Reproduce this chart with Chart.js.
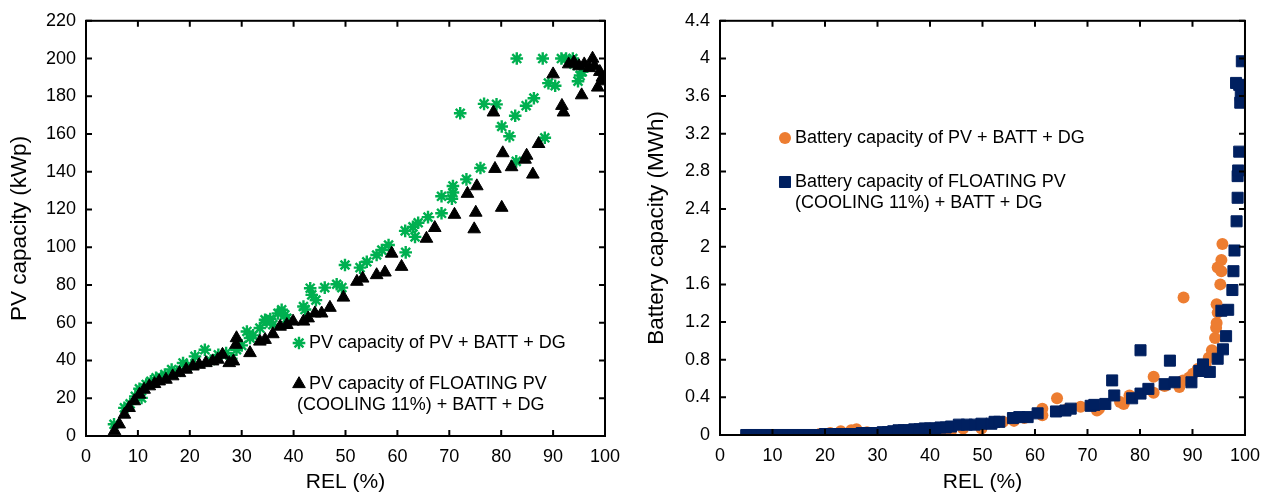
<!DOCTYPE html>
<html>
<head>
<meta charset="utf-8">
<script src="https://cdn.jsdelivr.net/npm/chart.js@4.4.1/dist/chart.umd.min.js"></script>
<style>
  body { margin: 0; background: #fff; }
  .wrap { position: absolute; top: 0; width: 635px; height: 496px; }
</style>
</head>
<body>
<div class="wrap" style="left:0"><canvas id="pv" width="635" height="496"></canvas></div>
<div class="wrap" style="left:635px"><canvas id="batt" width="635" height="496"></canvas></div>
<script>
// left panel: PV capacity (kWp) vs REL (%)
const pvBattRel = [5.4,7.4,8.5,9.5,10.3,10.7,11.6,12.5,13.5,14.5,15.2,16.5,17.5,18.7,19.5,21,22.9,24,25.5,27,28,29,30,31,31.6,32.2,33.5,34.5,34.8,35.5,36,37,37.7,38.3,38.7,41.9,42.2,43.2,43.5,44.3,46,48.3,49.3,49.9,52.8,54.1,56,57,58.3,61.6,61.5,63,63.4,64,65.9,68.5,68.5,70.5,70.7,70.7,72.1,73.3,76,76.7,79.1,80.1,81.6,82.7,82.9,83,84.8,86.3,88,88.4,89.1,90.4,91.6,92.5,93.8,94,94.8,95.2,95.6];
const pvBattCap = [6.2,14.9,17,21,25,20.2,27.3,29,30.8,31,32.6,35.2,34,38.7,37,42.2,45.7,40,43,44,41,45.7,48,55.4,51.9,53.3,57.2,61.6,60.7,62,59,65,66.9,64.2,62.4,68.6,67,78.3,74.8,72,78.6,80.4,78.6,90.6,89.2,92.3,95.9,98.5,101.2,97.3,108.7,110.8,105.5,113,116,118,127,125.7,129,132.5,171,136,142,176,175.7,164,158.8,169.7,145.5,200,175,179,200,158,187,185.6,200,200,200,197,188,191,193];

const floatRel = [5.5,6.4,7.4,8.3,9.3,10.3,11.2,12.2,13.2,14.1,15.4,16.7,18,19.3,20.6,21.8,23.1,24.4,25.4,26.3,27.6,28.4,28.9,29,31.6,33.5,34.5,36,37.4,38.7,39.9,41.9,42.8,44.1,45.4,47,49.6,52.2,53.3,56,57.6,58.9,60.8,65.6,67.2,71,73.5,74.8,75.1,75.3,78.5,78.8,80.1,80.3,82,84.6,84.9,86.1,87.2,90,91.7,92,93,94,95,95.5,96,97,97.6,98,98.6,99,99.5,99.8];
const floatCap = [2.6,6.2,11.4,14.9,18.5,22,24.6,26.4,27.6,29,29.9,31.7,33.4,35.2,36.9,37.8,38.7,39.6,40.5,43.1,38.7,39.6,48.4,51.9,44,50.1,51,54,58,58.9,60.7,60.7,62.4,65,65,68,73.4,81.8,83.5,85.3,86.7,96.7,89.7,104.6,110.3,117.3,128.4,109.6,118.4,132.4,171.5,141.6,121,149.9,142.5,146.5,148.6,138.6,154.8,191.7,175,171.5,197,198,196,180.6,197,195,200,196,184.7,193,190,188];

// right panel: battery capacity (MWh) vs REL (%)
const battRel = [5,7,9,11,13,15,17,19,21,23,25,26,28,30,32,34,36,38,40,42,44,46.3,49.8,53.9,56,58,61.4,61.4,64.2,66,68.7,71.8,72.2,76.2,76.9,78,82.6,82.6,84.7,87.5,88.2,88.3,89.4,90.1,91,92.5,93.1,93.7,94.3,94.5,94.6,94.8,94.6,95.3,95.5,94.8,95.5,95.7];
const battCap = [0,0,0,0,0,0,0,0.01,0.02,0.04,0.05,0.06,0.03,0.01,0,0.01,0.02,0.02,0.03,0.04,0.04,0.07,0.07,0.14,0.15,0.18,0.21,0.28,0.39,0.27,0.3,0.26,0.28,0.35,0.33,0.42,0.62,0.45,0.52,0.51,0.58,1.46,0.61,0.65,0.7,0.75,0.82,0.9,1.03,1.14,1.19,1.3,1.39,1.6,1.74,1.78,1.86,2.03];

const floatBattRel = [5,6,7,8,9,10,11,12,13,14,15,16,17,18,19,20,21,22,23,24,25,26,27,28,29,30,31,32,33,34,35,36,37,38,39,40,41,42,43,44,45.5,47,48.5,49.8,51.7,52.3,53.2,55.8,57,58.6,60.5,64,65.8,66.8,70.6,71.3,73.4,74.7,75.1,78.5,80.1,80.1,81.6,84.7,85.7,86.6,89.8,91.3,92,93.3,94.8,95.8,96.4,95.5,96.8,97.6,97.8,98,98.4,98.6,98.6,98.7,98.9,99.1,99.2,98.3,98.9,99.4];
const floatBattCap = [0,0,0,0,0,0,0,0,0,0,0,0,0,0,0,0.01,0.01,0.01,0.01,0.01,0.01,0.01,0.02,0.02,0.02,0.02,0.03,0.03,0.04,0.05,0.05,0.05,0.06,0.06,0.07,0.07,0.07,0.08,0.08,0.09,0.11,0.11,0.11,0.12,0.12,0.14,0.14,0.18,0.19,0.19,0.23,0.25,0.26,0.28,0.31,0.32,0.33,0.58,0.42,0.39,0.44,0.9,0.49,0.54,0.79,0.56,0.56,0.68,0.75,0.67,0.81,0.91,1.05,1.32,1.33,1.54,1.74,1.96,2.27,2.52,2.75,2.81,3.01,3.53,3.61,3.74,3.72,3.97];

const relTicks = { min: 0, max: 100, step: 10 };
const pvTicks = { min: 0, max: 220, step: 20 };
const battTicks = { min: 0, max: 4.4, step: 0.4 };

const FONT = '"Liberation Sans", Arial, sans-serif';
Chart.defaults.font.family = FONT;
Chart.defaults.font.size = 18;
Chart.defaults.color = '#000';

const pts = (xs, ys) => xs.map((x, i) => ({ x: x, y: ys[i] }));

// frame with inward ticks on all four sides, plus the in-plot legend
const frameTicks = {
  id: 'frameTicks',
  afterDatasetsDraw(chart, args, opts) {
    const { ctx, chartArea: a } = chart;
    const x = chart.scales.x, y = chart.scales.y;
    ctx.save();
    ctx.strokeStyle = '#000';
    ctx.lineWidth = 2;
    ctx.strokeRect(a.left, a.top, a.right - a.left, a.bottom - a.top);
    ctx.beginPath();
    x.ticks.forEach(t => {
      const px = x.getPixelForValue(t.value);
      ctx.moveTo(px, a.bottom); ctx.lineTo(px, a.bottom - 6);
      ctx.moveTo(px, a.top); ctx.lineTo(px, a.top + 6);
    });
    y.ticks.forEach(t => {
      const py = y.getPixelForValue(t.value);
      ctx.moveTo(a.left, py); ctx.lineTo(a.left + 6, py);
      ctx.moveTo(a.right, py); ctx.lineTo(a.right - 6, py);
    });
    ctx.stroke();

    ctx.font = '18px ' + FONT;
    ctx.textBaseline = 'middle';
    opts.items.forEach(it => {
      const ds = chart.data.datasets[it.ds];
      ctx.fillStyle = ds.backgroundColor;
      ctx.strokeStyle = ds.borderColor;
      ctx.lineWidth = ds.borderWidth;
      Chart.helpers.drawPoint(ctx, {
        pointStyle: ds.pointStyle, rotation: 0,
        radius: ds.pointRadius, borderWidth: ds.borderWidth
      }, it.mx, it.my);
      ctx.fillStyle = '#000';
      it.lines.forEach(l => ctx.fillText(l[0], l[1], l[2]));
    });
    ctx.restore();
  }
};

function axis(t, title, isX, size, titleSize, titlePad) {
  return {
    type: 'linear', min: t.min, max: t.max,
    ticks: {
      stepSize: t.step, padding: 10, maxRotation: 0, autoSkip: false,
      callback: v => String(Number(v.toFixed(1)))
    },
    grid: { display: false, drawTicks: false },
    border: { display: false },
    title: { display: true, text: title, font: { size: titleSize }, padding: titlePad },
    afterFit(s) { if (isX) s.height = size; else s.width = size; }
  };
}

new Chart(document.getElementById('pv'), {
  type: 'scatter',
  data: {
    datasets: [
      { label: 'PV capacity of PV + BATT + DG', data: pts(pvBattRel, pvBattCap),
        pointStyle: 'star', pointRadius: 6.3, borderWidth: 2.4,
        borderColor: '#00b050', backgroundColor: '#00b050', order: 1 },
      { label: 'PV capacity of FLOATING PV (COOLING 11%) + BATT + DG', data: pts(floatRel, floatCap),
        pointStyle: 'triangle', pointRadius: 7.3, borderWidth: 1,
        borderColor: '#000', backgroundColor: '#000', order: 0 }
    ]
  },
  options: {
    responsive: false, animation: false,
    layout: { padding: { left: 0, right: 30, top: 17, bottom: 0 } },
    scales: {
      x: axis(relTicks, 'REL (%)', true, 60, 21, { top: 0, bottom: 1 }),
      y: axis(pvTicks, 'PV capacity (kWp)', false, 86, 22.5, { top: 6, bottom: 0 })
    },
    plugins: {
      legend: { display: false }, tooltip: { enabled: false },
      frameTicks: { items: [
        { ds: 0, mx: 299, my: 343, lines: [['PV capacity of PV + BATT + DG', 309, 343]] },
        { ds: 1, mx: 299, my: 384, lines: [['PV capacity of FLOATING PV', 309, 384], ['(COOLING 11%) + BATT + DG', 297, 405]] }
      ] }
    }
  },
  plugins: [frameTicks]
});

new Chart(document.getElementById('batt'), {
  type: 'scatter',
  data: {
    datasets: [
      { label: 'Battery capacity of PV + BATT + DG', data: pts(battRel, battCap),
        pointStyle: 'circle', pointRadius: 6, borderWidth: 0,
        borderColor: '#ed7d31', backgroundColor: '#ed7d31', order: 1 },
      { label: 'Battery capacity of FLOATING PV (COOLING 11%) + BATT + DG', data: pts(floatBattRel, floatBattCap),
        pointStyle: 'rect', pointRadius: 7.8, borderWidth: 1,
        borderColor: '#002060', backgroundColor: '#002060', order: 0 }
    ]
  },
  options: {
    responsive: false, animation: false,
    layout: { padding: { left: 0, right: 21, top: 16, bottom: 0 } },
    scales: {
      x: axis(relTicks, 'REL (%)', true, 61, 21, { top: 0, bottom: 1 }),
      y: axis(battTicks, 'Battery capacity (MWh)', false, 85, 22.5, { top: 8, bottom: 0 })
    },
    plugins: {
      legend: { display: false }, tooltip: { enabled: false },
      frameTicks: { items: [
        { ds: 0, mx: 150, my: 138, lines: [['Battery capacity of PV + BATT + DG', 160, 138]] },
        { ds: 1, mx: 150, my: 182, lines: [['Battery capacity of FLOATING PV', 160, 182], ['(COOLING 11%) + BATT + DG', 160, 203]] }
      ] }
    }
  },
  plugins: [frameTicks]
});
</script>
</body>
</html>
